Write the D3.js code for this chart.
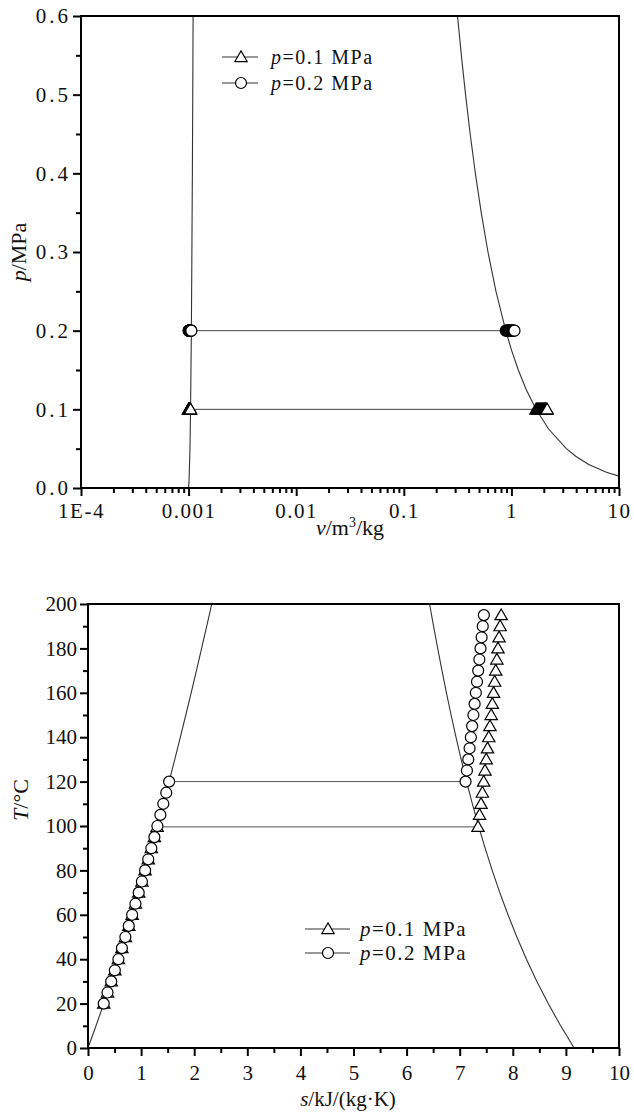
<!DOCTYPE html>
<html>
<head>
<meta charset="utf-8">
<script src="https://cdn.jsdelivr.net/npm/d3@7"></script>
<style>
  body { margin: 0; background: #fff; }
  text { font-family: "Liberation Serif", "DejaVu Serif", serif; fill: #111; }
</style>
</head>
<body>
<div class="charts"></div>
<script>
// ---- data (steam properties) ----
// saturation curves, p-v chart
var satP = [0, 0.01, 0.05, 0.1, 0.2, 0.3, 0.4, 0.5, 0.6, 0.65]
var satVf = [0.001000, 0.001010, 0.001030, 0.001043, 0.001061, 0.001073, 0.001084, 0.001093, 0.001101, 0.001104]
var satPg = [0.01, 0.015, 0.02, 0.03, 0.04, 0.05, 0.075, 0.1, 0.125, 0.15, 0.175, 0.2, 0.25, 0.3, 0.35, 0.4, 0.45, 0.5, 0.55, 0.6, 0.65]
var satVg = [14.67, 10.02, 7.649, 5.229, 3.993, 3.240, 2.217, 1.694, 1.375, 1.159, 1.004, 0.8857, 0.7187, 0.6058, 0.5243, 0.4625, 0.4140, 0.3749, 0.3427, 0.3157, 0.2927]

// saturation curves, T-s chart
var satT = [0.01, 10, 20, 30, 40, 50, 60, 70, 80, 90, 100, 110, 120, 130, 140, 150, 160, 170, 180, 190, 200, 210]
var satSf = [0, 0.1510, 0.2966, 0.4369, 0.5725, 0.7038, 0.8312, 0.9549, 1.0753, 1.1925, 1.3069, 1.4185, 1.5276, 1.6344, 1.7391, 1.8418, 1.9427, 2.0419, 2.1396, 2.2359, 2.3309, 2.4245]
var satSg = [9.1562, 8.9008, 8.6672, 8.4533, 8.2570, 8.0763, 7.9096, 7.7553, 7.6122, 7.4791, 7.3549, 7.2387, 7.1296, 7.0269, 6.9299, 6.8379, 6.7502, 6.6663, 6.5857, 6.5079, 6.4323, 6.3585]

// p = 0.1 MPa series
var t01 = [20, 25, 30, 35, 40, 45, 50, 55, 60, 65, 70, 75, 80, 85, 90, 95, 99.6,
           99.6, 105, 110, 115, 120, 125, 130, 135, 140, 145, 150, 155, 160, 165, 170, 175, 180, 185, 190, 195]
var s01 = [0.2966, 0.3674, 0.4369, 0.5053, 0.5725, 0.6387, 0.7038, 0.7679, 0.8312, 0.8935, 0.9549, 1.0155, 1.0753, 1.1343, 1.1925, 1.2500, 1.3026,
           7.345, 7.374, 7.401, 7.427, 7.451, 7.476, 7.500, 7.524, 7.547, 7.570, 7.593, 7.615, 7.637, 7.658, 7.679, 7.700, 7.721, 7.741, 7.761, 7.781]
var v01 = [0.001002, 0.001003, 0.001004, 0.001006, 0.001008, 0.001010, 0.001012, 0.001015, 0.001017, 0.001020, 0.001023, 0.001026, 0.001029, 0.001032, 0.001036, 0.001040, 0.001043,
           1.694, 1.720, 1.744, 1.768, 1.793, 1.817, 1.841, 1.865, 1.889, 1.913, 1.937, 1.960, 1.984, 2.008, 2.032, 2.055, 2.079, 2.103, 2.126, 2.150]

// p = 0.2 MPa series
var t02 = [20, 25, 30, 35, 40, 45, 50, 55, 60, 65, 70, 75, 80, 85, 90, 95, 100, 105, 110, 115, 120,
           120, 125, 130, 135, 140, 145, 150, 155, 160, 165, 170, 175, 180, 185, 190, 195]
var s02 = [0.2966, 0.3674, 0.4369, 0.5053, 0.5725, 0.6387, 0.7038, 0.7679, 0.8312, 0.8935, 0.9549, 1.0155, 1.0753, 1.1343, 1.1925, 1.2500, 1.3069, 1.3630, 1.4185, 1.4734, 1.5276,
           7.110, 7.136, 7.161, 7.186, 7.210, 7.234, 7.258, 7.281, 7.304, 7.326, 7.348, 7.370, 7.392, 7.413, 7.434, 7.455]
var v02 = [0.001002, 0.001003, 0.001004, 0.001006, 0.001008, 0.001010, 0.001012, 0.001015, 0.001017, 0.001020, 0.001023, 0.001026, 0.001029, 0.001032, 0.001036, 0.001040, 0.001044, 0.001047, 0.001052, 0.001056, 0.001061,
           0.8857, 0.8976, 0.9100, 0.9224, 0.9348, 0.9472, 0.9596, 0.9717, 0.9838, 0.9958, 1.0079, 1.0200, 1.0320, 1.0441, 1.0562, 1.0682]

// ticks
var pvXTicks = [1e-4, 1e-3, 1e-2, 1e-1, 1, 10]
var pvXLabels = ['1E-4', '0.001', '0.01', '0.1', '1', '10']
var pvYTicks = [0, 0.1, 0.2, 0.3, 0.4, 0.5, 0.6]
var tsXTicks = [0, 1, 2, 3, 4, 5, 6, 7, 8, 9, 10]
var tsYTicks = [0, 20, 40, 60, 80, 100, 120, 140, 160, 180, 200]
var legendLabels = ['=0.1 MPa', '=0.2 MPa']

var svg = d3.select('.charts')
  .append('svg')
  .attr('width', 634)
  .attr('height', 1112)

var triangle = d3.symbol().type(d3.symbolTriangle).size(66)
var circleR = 5.5

function drawMarker(g, type, x, y) {
  if (type == 'tri') {
    g.append('path')
      .attr('d', triangle)
      .attr('transform', 'translate(' + x + ',' + (y + 1) + ')')
      .attr('fill', '#fff').attr('stroke', '#000').attr('stroke-width', 1.2)
  } else {
    g.append('circle')
      .attr('cx', x).attr('cy', y).attr('r', circleR)
      .attr('fill', '#fff').attr('stroke', '#000').attr('stroke-width', 1.2)
  }
}

function frame(g, x, y) {
  var r = x.range(), t = y.range()
  g.append('rect')
    .attr('x', r[0]).attr('y', t[1])
    .attr('width', r[1] - r[0]).attr('height', t[0] - t[1])
    .attr('fill', 'none').attr('stroke', '#000').attr('stroke-width', 2)
}

function styleAxis(a, size, spacing) {
  a.select('.domain').remove()
  a.selectAll('line').attr('stroke', '#000').attr('stroke-width', 2)
  a.selectAll('text').style('font-size', size + 'px').style('letter-spacing', (spacing || 0) + 'px').attr('fill', '#111')
}

// ================= p-v chart =================
var x1 = d3.scaleLog().domain([1e-4, 10]).range([81, 619])
var y1 = d3.scaleLinear().domain([0, 0.6]).range([488, 16])

svg.append('clipPath').attr('id', 'clip1')
  .append('rect').attr('x', 81).attr('y', 16).attr('width', 538).attr('height', 472)

var g1 = svg.append('g')
var plot1 = g1.append('g').attr('clip-path', 'url(#clip1)')

var lineLiq1 = d3.line().x(function(d, i) { return x1(satVf[i]) }).y(function(d) { return y1(d) })
plot1.append('path').attr('d', lineLiq1(satP))
  .attr('fill', 'none').attr('stroke', '#333').attr('stroke-width', 1.1)
var lineVap1 = d3.line().x(function(d, i) { return x1(satVg[i]) }).y(function(d) { return y1(d) })
plot1.append('path').attr('d', lineVap1(satPg))
  .attr('fill', 'none').attr('stroke', '#333').attr('stroke-width', 1.1)

// series lines (constant pressure)
plot1.append('path').attr('d', d3.line()([[x1(v01[0]), y1(0.1)], [x1(v01[v01.length - 1]), y1(0.1)]]))
  .attr('stroke', '#444').attr('stroke-width', 1)
plot1.append('path').attr('d', d3.line()([[x1(v02[0]), y1(0.2)], [x1(v02[v02.length - 1]), y1(0.2)]]))
  .attr('stroke', '#444').attr('stroke-width', 1)

v01.forEach(function(v) { drawMarker(plot1, 'tri', x1(v), y1(0.1)) })
v02.forEach(function(v) { drawMarker(plot1, 'circ', x1(v), y1(0.2)) })

frame(g1, x1, y1)

var minorLog = []
pvXTicks.slice(0, -1).forEach(function(d) {
  for (var k = 2; k <= 9; k++) minorLog.push(d * k)
})
var ax1 = g1.append('g').attr('transform', 'translate(0,488)')
  .call(d3.axisBottom(x1).tickValues(pvXTicks).tickSize(8).tickPadding(7)
    .tickFormat(function(d, i) { return pvXLabels[i] }))
styleAxis(ax1, 21, 1.5)
var ax1m = g1.append('g').attr('transform', 'translate(0,488)')
  .call(d3.axisBottom(x1).tickValues(minorLog).tickSize(5).tickFormat(''))
styleAxis(ax1m, 21)

var ay1 = g1.append('g').attr('transform', 'translate(81,0)')
  .call(d3.axisLeft(y1).tickValues(pvYTicks).tickSize(8).tickPadding(2).tickFormat(d3.format('.1f')))
styleAxis(ay1, 21, 3)
var ay1m = g1.append('g').attr('transform', 'translate(81,0)')
  .call(d3.axisLeft(y1).tickValues([0.05, 0.15, 0.25, 0.35, 0.45, 0.55]).tickSize(5).tickFormat(''))
styleAxis(ay1m, 21)

var lab1 = g1.append('text')
  .attr('transform', 'translate(26,252) rotate(-90)')
  .attr('text-anchor', 'middle').style('font-size', '22px')
lab1.append('tspan').style('font-style', 'italic').text('p')
lab1.append('tspan').text('/MPa')

var lab1x = g1.append('text')
  .attr('x', 350).attr('y', 535)
  .attr('text-anchor', 'middle').style('font-size', '22px')
lab1x.append('tspan').style('font-style', 'italic').text('v')
lab1x.append('tspan').text('/m')
lab1x.append('tspan').attr('dy', -8).style('font-size', '14px').text('3')
lab1x.append('tspan').attr('dy', 8).text('/kg')

// legend p-v
;['tri', 'circ'].forEach(function(type, i) {
  var yy = 57 + i * 26
  g1.append('line').attr('x1', 222).attr('x2', 258).attr('y1', yy).attr('y2', yy)
    .attr('stroke', '#333').attr('stroke-width', 1)
  drawMarker(g1, type, 241, yy)
  var t = g1.append('text').attr('x', 271).attr('y', yy + 7)
    .style('font-size', '20px').style('letter-spacing', '1.5px')
  t.append('tspan').style('font-style', 'italic').text('p')
  t.append('tspan').text(legendLabels[i])
})

// ================= T-s chart =================
var x2 = d3.scaleLinear().domain([0, 10]).range([88, 619])
var y2 = d3.scaleLinear().domain([0, 200]).range([1048, 604])

svg.append('clipPath').attr('id', 'clip2')
  .append('rect').attr('x', 88).attr('y', 604).attr('width', 531).attr('height', 444)

var g2 = svg.append('g')
var plot2 = g2.append('g').attr('clip-path', 'url(#clip2)')

var lineLiq2 = d3.line().x(function(d, i) { return x2(satSf[i]) }).y(function(d) { return y2(d) })
plot2.append('path').attr('d', lineLiq2(satT))
  .attr('fill', 'none').attr('stroke', '#333').attr('stroke-width', 1.1)
var lineVap2 = d3.line().x(function(d, i) { return x2(satSg[i]) }).y(function(d) { return y2(d) })
plot2.append('path').attr('d', lineVap2(satT))
  .attr('fill', 'none').attr('stroke', '#333').attr('stroke-width', 1.1)

var seriesLine = d3.line().x(function(d) { return x2(d[0]) }).y(function(d) { return y2(d[1]) })
plot2.append('path').attr('d', seriesLine(s01.map(function(s, i) { return [s, t01[i]] })))
  .attr('fill', 'none').attr('stroke', '#555').attr('stroke-width', 1)
plot2.append('path').attr('d', seriesLine(s02.map(function(s, i) { return [s, t02[i]] })))
  .attr('fill', 'none').attr('stroke', '#555').attr('stroke-width', 1)

s01.forEach(function(s, i) { drawMarker(plot2, 'tri', x2(s), y2(t01[i])) })
s02.forEach(function(s, i) { drawMarker(plot2, 'circ', x2(s), y2(t02[i])) })

frame(g2, x2, y2)

var ax2 = g2.append('g').attr('transform', 'translate(0,1048)')
  .call(d3.axisBottom(x2).tickValues(tsXTicks).tickSize(8).tickPadding(9).tickFormat(d3.format('d')))
styleAxis(ax2, 21)
var ax2m = g2.append('g').attr('transform', 'translate(0,1048)')
  .call(d3.axisBottom(x2).tickValues(tsXTicks.slice(0, -1).map(function(d) { return d + 0.5 })).tickSize(5).tickFormat(''))
styleAxis(ax2m, 21)

var ay2 = g2.append('g').attr('transform', 'translate(88,0)')
  .call(d3.axisLeft(y2).tickValues(tsYTicks).tickSize(8).tickPadding(3).tickFormat(d3.format('d')))
styleAxis(ay2, 21)
var ay2m = g2.append('g').attr('transform', 'translate(88,0)')
  .call(d3.axisLeft(y2).tickValues(tsYTicks.slice(0, -1).map(function(d) { return d + 10 })).tickSize(5).tickFormat(''))
styleAxis(ay2m, 21)

var lab2 = g2.append('text')
  .attr('transform', 'translate(28,800) rotate(-90)')
  .attr('text-anchor', 'middle').style('font-size', '22px')
lab2.append('tspan').style('font-style', 'italic').text('T')
lab2.append('tspan').text('/°C')

var lab2x = g2.append('text')
  .attr('x', 348).attr('y', 1106)
  .attr('text-anchor', 'middle').style('font-size', '21px')
lab2x.append('tspan').style('font-style', 'italic').text('s')
lab2x.append('tspan').text('/kJ/(kg·K)')

// legend T-s
;['tri', 'circ'].forEach(function(type, i) {
  var yy = 929 + i * 24
  g2.append('line').attr('x1', 305).attr('x2', 350).attr('y1', yy).attr('y2', yy)
    .attr('stroke', '#333').attr('stroke-width', 1)
  drawMarker(g2, type, 328, yy)
  var t = g2.append('text').attr('x', 360).attr('y', yy + 7)
    .style('font-size', '21px').style('letter-spacing', '1.5px')
  t.append('tspan').style('font-style', 'italic').text('p')
  t.append('tspan').text(legendLabels[i])
})
</script>
</body>
</html>
